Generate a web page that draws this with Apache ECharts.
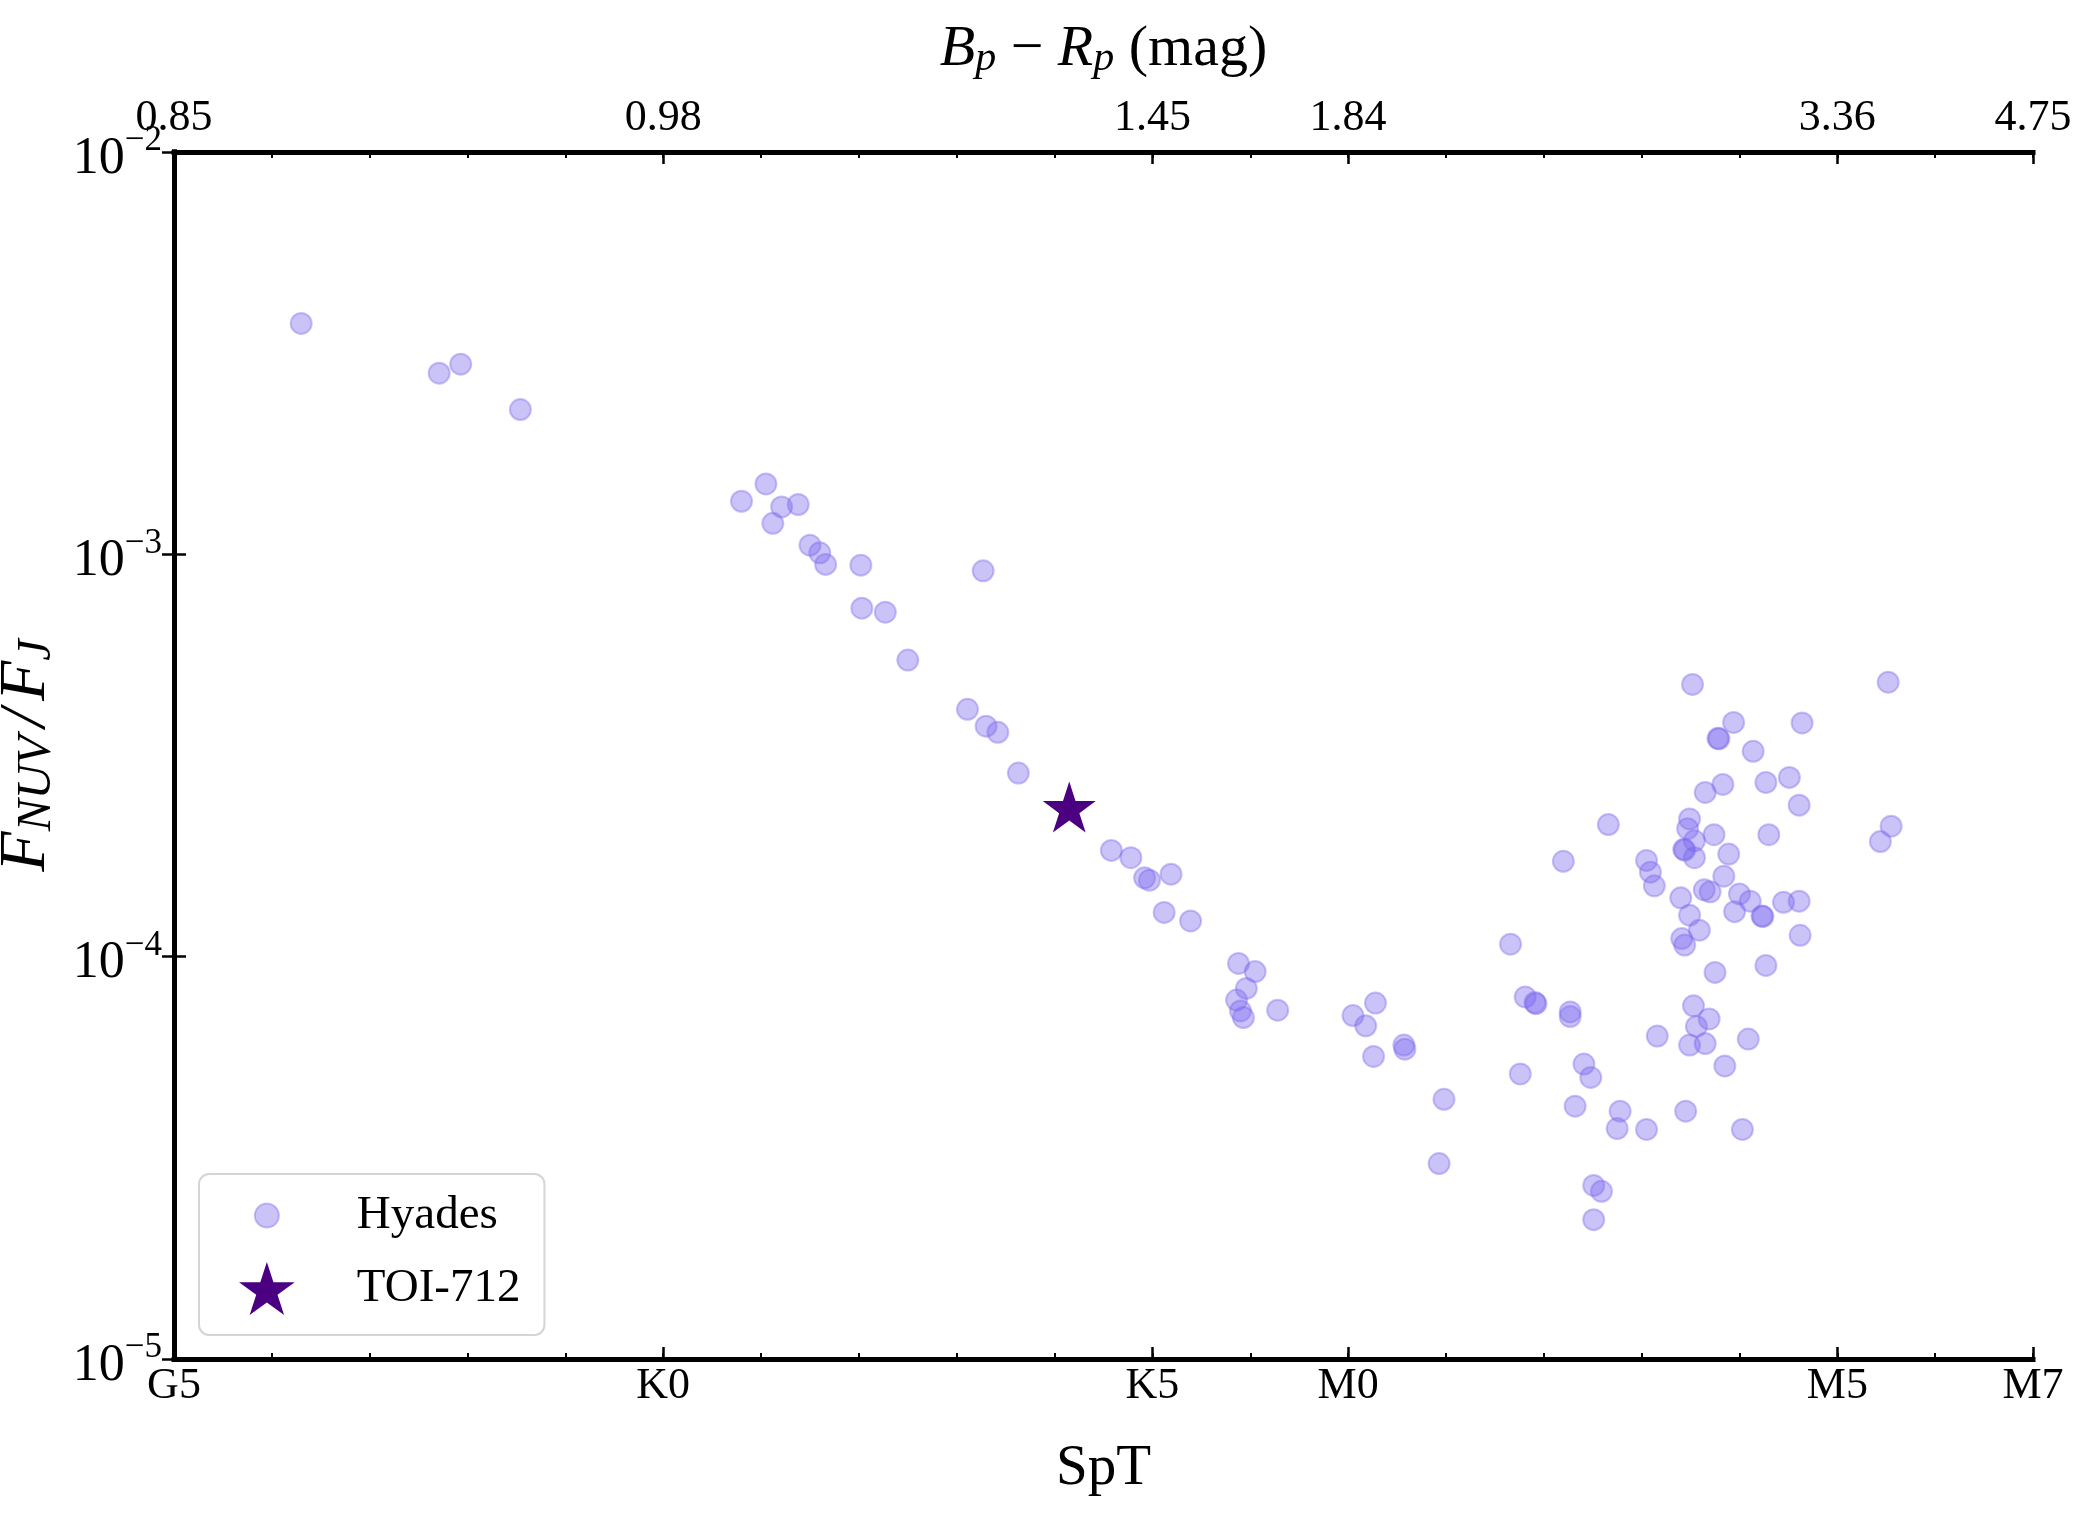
<!DOCTYPE html>
<html><head><meta charset="utf-8">
<script src="https://cdn.jsdelivr.net/npm/echarts@6/dist/echarts.min.js"></script>
<style>html,body{margin:0;padding:0;background:#fff}#c{width:2092px;height:1520px}</style>
</head><body><div id="c"></div>
<script>
// ---- data (spectral type as numeric: G5=0, K0=5, K5=10, M0=12, M5=17, M7=19) ----
const hyadesSpT = [
  1.30, 2.71, 2.93, 3.54, 5.80, 6.05, 6.12, 6.21, 6.38, 6.50,
  6.60, 6.66, 7.02, 8.27, 7.03, 7.27, 7.50, 8.11, 8.30, 8.42,
  8.63, 9.58, 9.78, 9.92, 9.97, 10.19, 10.12, 10.39, 10.88, 11.05,
  10.96, 10.86, 10.90, 10.93, 11.28, 12.05, 12.28, 12.18, 12.26, 12.57,
  12.58, 12.98, 12.93, 13.66, 13.81, 13.91, 13.92, 13.76, 14.20, 14.27,
  14.27, 14.32, 14.41, 14.48, 14.51, 14.59, 14.51, 14.66, 14.78, 14.75,
  15.05, 15.16, 15.05, 15.09, 15.13, 15.45, 15.52, 15.49, 15.47, 15.54,
  15.43, 15.44, 15.54, 15.40, 15.49, 15.59, 15.41, 15.44, 15.53, 15.69,
  15.56, 15.49, 15.65, 15.65, 15.83, 15.74, 15.89, 15.84, 15.64, 15.70,
  15.75, 15.85, 15.78, 15.79, 15.94, 16.14, 16.00, 16.11, 15.95, 16.23,
  16.24, 16.09, 16.03, 16.27, 16.30, 16.27, 16.51, 16.64, 16.61, 16.45,
  16.61, 16.62, 17.52, 17.55, 17.44
];
const hyadesRatio = [
  3.75e-3, 2.82e-3, 2.97e-3, 2.29e-3, 1.355e-3, 1.496e-3, 1.194e-3, 1.312e-3, 1.330e-3, 1.054e-3,
  1.009e-3, 9.44e-4, 9.40e-4, 9.10e-4, 7.35e-4, 7.18e-4, 5.46e-4, 4.12e-4, 3.74e-4, 3.61e-4,
  2.86e-4, 1.837e-4, 1.762e-4, 1.570e-4, 1.549e-4, 1.603e-4, 1.288e-4, 1.227e-4, 9.62e-5, 9.18e-5,
  8.34e-5, 7.80e-5, 7.33e-5, 7.06e-5, 7.36e-5, 7.14e-5, 7.67e-5, 6.73e-5, 5.65e-5, 6.03e-5,
  5.89e-5, 4.42e-5, 3.06e-5, 1.074e-4, 7.94e-5, 7.69e-5, 7.64e-5, 5.11e-5, 1.726e-4, 7.29e-5,
  7.10e-5, 4.25e-5, 5.41e-5, 5.01e-5, 2.70e-5, 2.61e-5, 2.22e-5, 2.13e-4, 4.13e-5, 3.74e-5,
  3.72e-5, 6.35e-5, 1.734e-4, 1.622e-4, 1.500e-4, 4.13e-5, 4.75e-4, 2.20e-4, 2.08e-4, 1.941e-4,
  1.849e-4, 1.841e-4, 1.762e-4, 1.400e-4, 1.268e-4, 1.164e-4, 1.109e-4, 1.069e-4, 7.55e-5, 7.00e-5,
  6.71e-5, 6.03e-5, 6.08e-5, 2.56e-4, 2.68e-4, 2.01e-4, 1.799e-4, 1.585e-4, 1.466e-4, 1.449e-4,
  9.14e-5, 5.35e-5, 3.49e-4, 3.48e-4, 3.82e-4, 3.24e-4, 1.432e-4, 1.374e-4, 1.294e-4, 1.262e-4,
  1.259e-4, 6.24e-5, 3.72e-5, 2.71e-4, 2.01e-4, 9.51e-5, 2.79e-4, 3.81e-4, 2.38e-4, 1.365e-4,
  1.374e-4, 1.130e-4, 4.81e-4, 2.11e-4, 1.932e-4
];
const toiSpT = [9.15];
const toiRatio = [2.39e-4];

const sptTickValues = [0, 5, 10, 12, 17, 19];
const sptTickLabels = ['G5', 'K0', 'K5', 'M0', 'M5', 'M7'];
const bprpTickLabels = ['0.85', '0.98', '1.45', '1.84', '3.36', '4.75'];

// ---- styling ----
const FONT = "'Liberation Serif', 'DejaVu Serif', serif";
const STAR = 'path://M0,-100L22.45,-30.9L95.11,-30.9L36.33,11.8L58.78,80.9L0,38.2L-58.78,80.9L-36.33,11.8L-95.11,-30.9L-22.45,-30.9Z';
const LEG_CIRCLE = 'path://M-110,-110M110,110M0,-50A50,50,0,1,1,0,50A50,50,0,1,1,0,-50Z';
const SPINE = {show: true, lineStyle: {color: '#000', width: 5, cap: 'square'}};

function labelFor(v, labels) {
  const i = sptTickValues.findIndex(t => Math.abs(t - v) < 1e-6);
  return i >= 0 ? labels[i] : '';
}

const hyadesData = hyadesSpT.map((x, i) => [x, hyadesRatio[i]]);
const toiData = toiSpT.map((x, i) => [x, toiRatio[i]]);

const chart = echarts.init(document.getElementById('c'), null, {renderer: 'canvas'});
const baseX = {type: 'value', min: 0, max: 19, splitLine: {show: false}};
chart.setOption({
  animation: false,
  backgroundColor: '#fff',
  grid: {left: 174, right: 59, top: 152, bottom: 161, containLabel: false, outerBoundsMode: 'none'},
  xAxis: [
    Object.assign({}, baseX, {position: 'bottom', interval: 1, axisLine: SPINE,
      axisTick: {show: true, inside: true, length: 6, lineStyle: {color: '#000', width: 2}},
      axisLabel: {show: false}}),
    Object.assign({}, baseX, {position: 'bottom', axisLine: {show: false},
      axisTick: {show: true, inside: true, length: 12, customValues: sptTickValues, lineStyle: {color: '#000', width: 2.5}},
      axisLabel: {show: true, customValues: sptTickValues, margin: 5, color: '#000', fontFamily: FONT, fontSize: 44,
        formatter: v => labelFor(v, sptTickLabels)},
      name: 'SpT', nameLocation: 'middle', nameGap: 82,
      nameTextStyle: {fontFamily: FONT, fontSize: 57, color: '#000'}}),
    Object.assign({}, baseX, {position: 'top', interval: 1, axisLine: SPINE,
      axisTick: {show: true, inside: true, length: 6, lineStyle: {color: '#000', width: 2}},
      axisLabel: {show: false}}),
    Object.assign({}, baseX, {position: 'top', axisLine: {show: false},
      axisTick: {show: true, inside: true, length: 12, customValues: sptTickValues, lineStyle: {color: '#000', width: 2.5}},
      axisLabel: {show: true, customValues: sptTickValues, margin: 12, color: '#000', fontFamily: FONT, fontSize: 44,
        formatter: v => labelFor(v, bprpTickLabels)},
      name: '{i|B}{s|p}{n| − }{i|R}{s|p}{n| (mag)}', nameLocation: 'middle', nameGap: 72,
      nameTextStyle: {rich: {
        i: {fontFamily: FONT, fontStyle: 'italic', fontSize: 58, color: '#000'},
        s: {fontFamily: FONT, fontStyle: 'italic', fontSize: 42, color: '#000', padding: [18, 0, 0, 0]},
        n: {fontFamily: FONT, fontSize: 58, color: '#000'}
      }}})
  ],
  yAxis: [
    {type: 'log', logBase: 10, min: 1e-5, max: 1e-2, position: 'left', splitLine: {show: false},
      axisLine: SPINE,
      axisTick: {show: true, inside: true, length: 12, lineStyle: {color: '#000', width: 2.5}},
      minorTick: {show: false},
      axisLabel: {show: true, margin: 12, color: '#000',
        formatter: v => '{b|10}{e|−' + Math.round(-Math.log10(v)) + '}',
        rich: {b: {fontFamily: FONT, fontSize: 52, color: '#000', padding: [14, 0, 0, 0]},
               e: {fontFamily: FONT, fontSize: 35, color: '#000', padding: [0, 0, 22, 0]}}},
      name: '{i|F}{s|NUV}{sl|/}{i|F}{s|J}', nameLocation: 'middle', nameRotate: 90, nameGap: 98,
      nameTextStyle: {rich: {
        i: {fontFamily: FONT, fontStyle: 'italic', fontSize: 66, color: '#000'},
        s: {fontFamily: FONT, fontStyle: 'italic', fontSize: 48, color: '#000', padding: [22, 0, 0, 0]},
        sl: {fontFamily: FONT, fontStyle: 'italic', fontSize: 66, color: '#000', padding: [0, 8, 0, 8]}
      }}},
    {type: 'log', logBase: 10, min: 1e-5, max: 1e-2, position: 'right', splitLine: {show: false},
      axisLine: SPINE,
      axisTick: {show: true, inside: true, length: 12, lineStyle: {color: '#000', width: 2.5}},
      axisLabel: {show: false}}
  ],
  legend: {
    orient: 'vertical', left: 199, top: 1174,
    padding: [14, 24, 20, 40], itemGap: 19, itemWidth: 60, itemHeight: 53,
    backgroundColor: 'rgba(255,255,255,0.8)', borderColor: '#d5d5d5', borderWidth: 2, borderRadius: 10,
    textStyle: {fontFamily: FONT, fontSize: 47, color: '#000', padding: [0, 0, 0, 55]},
    data: [
      {name: 'Hyades', icon: LEG_CIRCLE},
      {name: 'TOI-712', icon: STAR}
    ]
  },
  series: [
    {name: 'Hyades', type: 'scatter', xAxisIndex: 0, yAxisIndex: 0, data: hyadesData,
      symbol: 'circle', symbolSize: 21,
      itemStyle: {color: 'rgba(123,104,238,0.4)', borderColor: 'rgba(123,104,238,0.4)', borderWidth: 2, opacity: 1}},
    {name: 'TOI-712', type: 'scatter', xAxisIndex: 0, yAxisIndex: 0, data: toiData,
      symbol: STAR, symbolSize: [53, 51], symbolOffset: [0, 2.7], z: 3,
      itemStyle: {color: '#4B0082', opacity: 1}}
  ]
});
</script></body></html>
